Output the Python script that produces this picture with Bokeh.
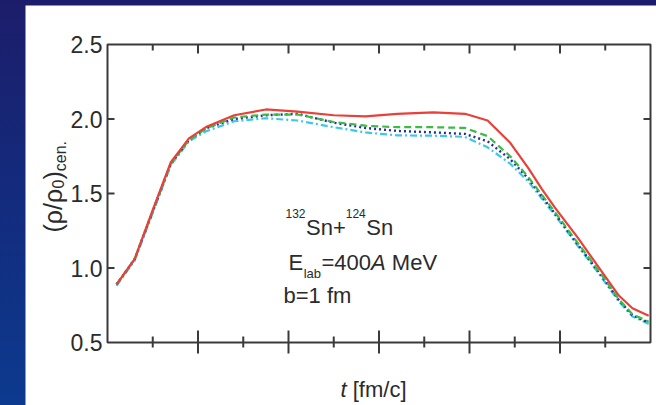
import math
from bokeh.plotting import figure
from bokeh.models import Range1d, Label, ColumnDataSource
from bokeh.embed import file_html
from bokeh.resources import INLINE

# ---------------- data ----------------
t = [1, 3, 5, 7, 9, 11, 14, 17.5, 21, 25, 28.5, 32, 36, 39.5, 42, 44.5, 46.5, 48, 49.5,
     52, 54.5, 56.5, 58, 59.8]
rho_red = [0.89, 1.06, 1.39, 1.71, 1.87, 1.95, 2.025, 2.064, 2.05, 2.025, 2.018, 2.035, 2.044,
           2.035, 1.99, 1.84, 1.67, 1.53, 1.40, 1.20, 0.985, 0.815, 0.73, 0.68]
rho_green = [0.89, 1.06, 1.38, 1.70, 1.86, 1.94, 2.01, 2.03, 2.03, 1.98, 1.955, 1.945, 1.945,
             1.94, 1.885, 1.75, 1.61, 1.49, 1.37, 1.165, 0.963, 0.79, 0.69, 0.64]
rho_blue = [0.89, 1.06, 1.38, 1.70, 1.86, 1.94, 2.0, 2.025, 2.035, 1.975, 1.94, 1.92, 1.91,
            1.90, 1.85, 1.73, 1.60, 1.48, 1.36, 1.155, 0.955, 0.785, 0.683, 0.633]
rho_cyan = [0.88, 1.05, 1.37, 1.69, 1.85, 1.92, 1.985, 2.005, 1.99, 1.945, 1.91, 1.89, 1.888,
            1.88, 1.81, 1.70, 1.58, 1.465, 1.35, 1.145, 0.945, 0.775, 0.675, 0.625]

x_major = [10, 20, 30, 40, 50]
x_minor = [5, 15, 25, 35, 45, 55]
y_major = [0.5, 1.0, 1.5, 2.0, 2.5]
y_inner = [1.0, 1.5, 2.0]

XMIN, XMAX = 0, 60
YMIN, YMAX = 0.5, 2.5

# ---------------- layout (page pixels) ----------------
W, H = 656, 405
PL, PT = 25, 5                       # white panel starts here (blue strip outside)
FL, FR, FT, FB = 107, 650, 44, 342   # visual plot box

FONT = "Liberation Sans"
TXT = "#2b2b2b"
AX = "#3a3a3a"

sx = (XMAX - XMIN) / (FR - FL)       # data units per pixel
sy = (YMAX - YMIN) / (FB - FT)


def X(px):
    return XMIN + (px - FL) * sx


def Y(py):
    return YMAX - (py - FT) * sy


CW = {"0": .556, "1": .556, "2": .556, "3": .556, "4": .556, "5": .556, "6": .556, "7": .556,
      "8": .556, "9": .556, "S": .667, "n": .556, "+": .584, "E": .667, "=": .584, "A": .667,
      " ": .278, "M": .833, "e": .556, "V": .667, "l": .222, "a": .556, "b": .556, "f": .278,
      "m": .833, "(": .333, ")": .333, "/": .278, "ρ": .575, "c": .5, ".": .278, "[": .278,
      "]": .278, "t": .278}


def tw(s, size):
    return sum(CW.get(ch, .55) for ch in s) * size


p = figure(width=W, height=H, output_backend="svg", toolbar_location=None,
           x_range=Range1d(X(PL), X(W)), y_range=Range1d(Y(H), Y(PT)),
           x_axis_location=None, y_axis_location=None,
           min_border_left=PL, min_border_right=0, min_border_top=PT, min_border_bottom=0,
           background_fill_color="white", border_fill_alpha=0.0)
p.styles = {"background": "linear-gradient(to bottom, #1c1d6a 0%, #142a7c 45%, #0c3a8e 100%)"}
p.grid.visible = False
p.outline_line_color = None

# ---- axes box, ticks and tick labels (drawn through the data scales) ----
p.quad(left=[XMIN], right=[XMAX], bottom=[YMIN], top=[YMAX], fill_color=None,
       line_color=AX, line_width=2)

# bottom: ticks crossing the axis
p.segment(x0=x_major, x1=x_major, y0=[Y(FB + 11)] * len(x_major),
          y1=[Y(FB - 12)] * len(x_major), line_color=AX, line_width=2)
p.segment(x0=x_minor, x1=x_minor, y0=[Y(FB + 5)] * len(x_minor),
          y1=[Y(FB - 6)] * len(x_minor), line_color=AX, line_width=2)
# top: inward ticks
p.segment(x0=x_major, x1=x_major, y0=[YMAX] * len(x_major),
          y1=[Y(FT + 9)] * len(x_major), line_color=AX, line_width=2)
p.segment(x0=x_minor, x1=x_minor, y0=[YMAX] * len(x_minor),
          y1=[Y(FT + 6)] * len(x_minor), line_color=AX, line_width=2)
# left and right: inward ticks
p.segment(x0=[XMIN] * len(y_inner), x1=[X(FL + 7)] * len(y_inner), y0=y_inner, y1=y_inner,
          line_color=AX, line_width=2)
p.segment(x0=[XMAX] * len(y_inner), x1=[X(FR - 7)] * len(y_inner), y0=y_inner, y1=y_inner,
          line_color=AX, line_width=2)
# y tick labels
p.text(x=[X(FL - 5)] * len(y_major), y=y_major, text=[f"{v:.1f}" for v in y_major],
       text_align="right", text_baseline="middle", text_font_size="23px",
       text_color=TXT, text_font={"value": FONT})

# ---- curves ----
src = ColumnDataSource(dict(t=t, red=rho_red, green=rho_green, blue=rho_blue, cyan=rho_cyan))
p.line("t", "cyan", source=src, line_color="#3cc8e6", line_width=2.2, line_dash="7 3 2 3")
p.line("t", "blue", source=src, line_color="#2a2aa0", line_width=2.4, line_dash="2 3")
p.line("t", "green", source=src, line_color="#3dbb45", line_width=2.2, line_dash="7 4")
p.line("t", "red", source=src, line_color="#e8403a", line_width=2.2)


def lab(px, py, text, size, style="normal", angle=0.0):
    p.add_layout(Label(x=X(px), y=Y(py), text=text, text_font=FONT,
                       text_font_size=f"{size}px", text_font_style=style,
                       text_color=TXT, text_align="left", text_baseline="alphabetic",
                       angle=angle))


# annotation block
S, s = 22, 12
x0 = 285
lab(x0, 213, "132", s)
x1 = x0 + tw("132", s) + 0.5
lab(x1, 227, "Sn+", S)
x2 = x1 + tw("Sn+", S)
lab(x2, 213, "124", s)
x3 = x2 + tw("124", s) + 0.5
lab(x3, 227, "Sn", S)

x0 = 288
lab(x0, 262, "E", S)
x1 = x0 + tw("E", S) + 0.5
lab(x1, 273, "lab", 13)
x2 = x1 + tw("lab", 13) + 0.5
lab(x2, 262, "=400", S)
x3 = x2 + tw("=400", S)
lab(x3, 262, "A", S, "italic")
x4 = x3 + tw("A", S) + tw(" ", S)
lab(x4, 262, "MeV", S)

lab(283, 295, "b=1 fm", S)

# x-axis title
lab(340, 389, "t", S, "italic")
lab(340 + tw("t ", S), 389, "[fm/c]", S)

# y-axis title (rotated, reads bottom to top)
M, m = 25, 16
A90 = math.pi / 2
yb = 232
lab(52, yb, "(ρ/ρ", M, angle=A90)
yb -= tw("(ρ/ρ", M)
lab(57, yb, "0", m, angle=A90)
yb -= tw("0", m)
lab(52, yb, ")", M, angle=A90)
yb -= tw(")", M)
lab(60, yb, "cen.", m, angle=A90)

open("out.html", "w").write(file_html(p, INLINE))
